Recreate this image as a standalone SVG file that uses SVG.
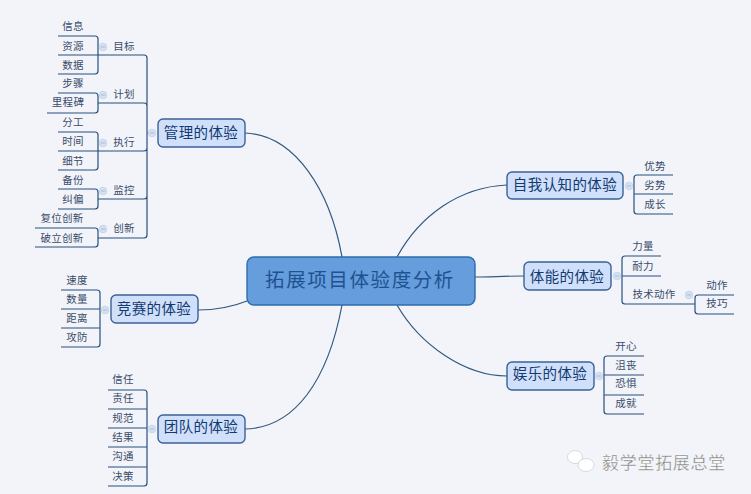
<svg xmlns="http://www.w3.org/2000/svg" width="751" height="494" viewBox="0 0 751 494">
<style>
text{font-family:"Noto Sans CJK SC","Liberation Sans",sans-serif;text-anchor:middle;dominant-baseline:central;fill:#3a4d6b}
.leaf{font-size:10.5px;letter-spacing:.3px;transform:translateY(-1px)}
.branch{font-size:14.5px;letter-spacing:.4px;fill:#123a70;transform:translateY(-.6px)}
.center{font-size:19.5px;letter-spacing:1.6px;fill:#1f5290;transform:translateY(-1.4px)}
.line{fill:none;stroke:#27507f;stroke-width:1.2}
.curve{fill:none;stroke:#33597f;stroke-width:1.2}
.box{fill:#d0e0fb;stroke:#3b6294;stroke-width:1.4}
.dot{fill:#d5e0f1;stroke:#c6d6ec;stroke-width:1}
.mark{fill:none;stroke:#a5bad6;stroke-width:1}
.wm{font-size:17px;letter-spacing:.7px;fill:#7f7f7f;stroke:#fff;stroke-width:.3}
</style>
<defs>
<g id="fold"><circle r="3.8" class="dot"/><path d="M-2 0H2" class="mark"/></g>
</defs>
<rect width="751" height="494" fill="#f2f4fa"/>
<g id="connectors">
<path class="curve" d="M245 133C295 135 330 190 342 257"/>
<path class="curve" d="M507 185C460 187 420 215 397 257"/>
<path class="curve" d="M524 276C505 276 490 277 475 277"/>
<path class="curve" d="M507 376C465 376 420 345 397 305"/>
<path class="curve" d="M198 310C215 310 232 307 247 301"/>
<path class="curve" d="M245 429C295 428 328 380 342 305"/>
<path class="line" d="M58 55H144Q147 55 147 58V235Q147 238 144 238H98M98 103H144Q147 103 147 106M58 151H144Q147 151 147 148M98 199H144Q147 199 147 196M147 133H156"/>
<path class="line" d="M58 36H95Q98 36 98 39V71Q98 74 95 74H58"/>
<path class="line" d="M58 93H95Q98 93 98 96V110Q98 113 95 113H47"/>
<path class="line" d="M58 132H95Q98 132 98 135V167Q98 170 95 170H58"/>
<path class="line" d="M58 189H95Q98 189 98 192V206Q98 209 95 209H58"/>
<path class="line" d="M35 228H95Q98 228 98 231V244Q98 247 95 247H35"/>
<path class="line" d="M673 175H637Q634 175 634 178V211Q634 214 637 214H673M634 194H673"/>
<path class="line" d="M661 256H625Q622 256 622 259V301Q622 304 625 304H695M622 276H661"/>
<path class="line" d="M734 295H698Q695 295 695 298V311Q695 314 698 314H734"/>
<path class="line" d="M644 356H607Q604 356 604 359V411Q604 414 607 414H644M604 375H644M604 395H644"/>
<path class="line" d="M61 290H97Q100 290 100 293V344Q100 347 97 347H61M61 309H100M61 328H100"/>
<path class="line" d="M108 390H144Q147 390 147 393V483Q147 486 144 486H108M108 409H147M108 428H147M108 447H147M108 467H147"/>
</g>
<g id="center"><rect class="box" x="247" y="257" width="228" height="48" rx="7" style="fill:#659ddd;stroke:#2f6cab"/><text class="center" x="360" y="280">拓展项目体验度分析</text></g>
<g id="guanli">
<rect class="box" x="158" y="119" width="87" height="28" rx="5"/><text class="branch" x="201" y="132">管理的体验</text>
<use href="#fold" x="152" y="133"/>
<use href="#fold" x="103" y="47"/><use href="#fold" x="103" y="95"/><use href="#fold" x="103" y="143"/><use href="#fold" x="103" y="191"/><use href="#fold" x="103" y="229"/>
<text class="leaf" x="124" y="46">目标</text><text class="leaf" x="124" y="94">计划</text><text class="leaf" x="124" y="142">执行</text><text class="leaf" x="124" y="190">监控</text><text class="leaf" x="124" y="228">创新</text>
<text class="leaf" x="73" y="26">信息</text><text class="leaf" x="73" y="46">资源</text><text class="leaf" x="73" y="65">数据</text>
<text class="leaf" x="73" y="83">步骤</text><text class="leaf" x="68" y="102">里程碑</text>
<text class="leaf" x="73" y="122">分工</text><text class="leaf" x="73" y="141">时间</text><text class="leaf" x="73" y="161">细节</text>
<text class="leaf" x="73" y="180">备份</text><text class="leaf" x="73" y="199">纠偏</text>
<text class="leaf" x="62" y="218">复位创新</text><text class="leaf" x="62" y="238">破立创新</text>
</g>
<g id="ziwo">
<rect class="box" x="507" y="172" width="116" height="27" rx="5"/><text class="branch" x="565" y="184">自我认知的体验</text>
<use href="#fold" x="629" y="186"/>
<text class="leaf" x="655" y="166">优势</text><text class="leaf" x="655" y="185">劣势</text><text class="leaf" x="655" y="204">成长</text>
</g>
<g id="tineng">
<rect class="box" x="524" y="262" width="87" height="28" rx="5"/><text class="branch" x="567" y="276">体能的体验</text>
<use href="#fold" x="617" y="276"/><use href="#fold" x="689" y="295"/>
<text class="leaf" x="643" y="246">力量</text><text class="leaf" x="643" y="266">耐力</text><text class="leaf" x="654" y="294">技术动作</text>
<text class="leaf" x="717" y="285">动作</text><text class="leaf" x="717" y="303">技巧</text>
</g>
<g id="yule">
<rect class="box" x="507" y="362" width="87" height="28" rx="5"/><text class="branch" x="550" y="373">娱乐的体验</text>
<use href="#fold" x="599" y="376"/>
<text class="leaf" x="626" y="346">开心</text><text class="leaf" x="626" y="365">沮丧</text><text class="leaf" x="626" y="383">恐惧</text><text class="leaf" x="626" y="403">成就</text>
</g>
<g id="jingsai">
<rect class="box" x="111" y="295" width="87" height="28" rx="5"/><text class="branch" x="154" y="308">竞赛的体验</text>
<use href="#fold" x="105" y="310"/>
<text class="leaf" x="77" y="280">速度</text><text class="leaf" x="77" y="299">数量</text><text class="leaf" x="77" y="318">距离</text><text class="leaf" x="77" y="337">攻防</text>
</g>
<g id="tuandui">
<rect class="box" x="158" y="415" width="87" height="28" rx="5"/><text class="branch" x="201" y="426">团队的体验</text>
<use href="#fold" x="152" y="429"/>
<text class="leaf" x="123" y="379">信任</text><text class="leaf" x="123" y="398">责任</text><text class="leaf" x="123" y="418">规范</text><text class="leaf" x="123" y="437">结果</text><text class="leaf" x="123" y="456">沟通</text><text class="leaf" x="123" y="476">决策</text>
</g>
<g id="watermark">
<ellipse cx="575" cy="457" rx="7.5" ry="6.5" fill="#fff" stroke="#c4c4c4" stroke-width=".6"/>
<ellipse cx="586" cy="465" rx="8" ry="6.5" fill="#fff" stroke="#c4c4c4" stroke-width=".6"/>
<text class="wm" x="664" y="461">毅学堂拓展总堂</text>
</g>
</svg>
